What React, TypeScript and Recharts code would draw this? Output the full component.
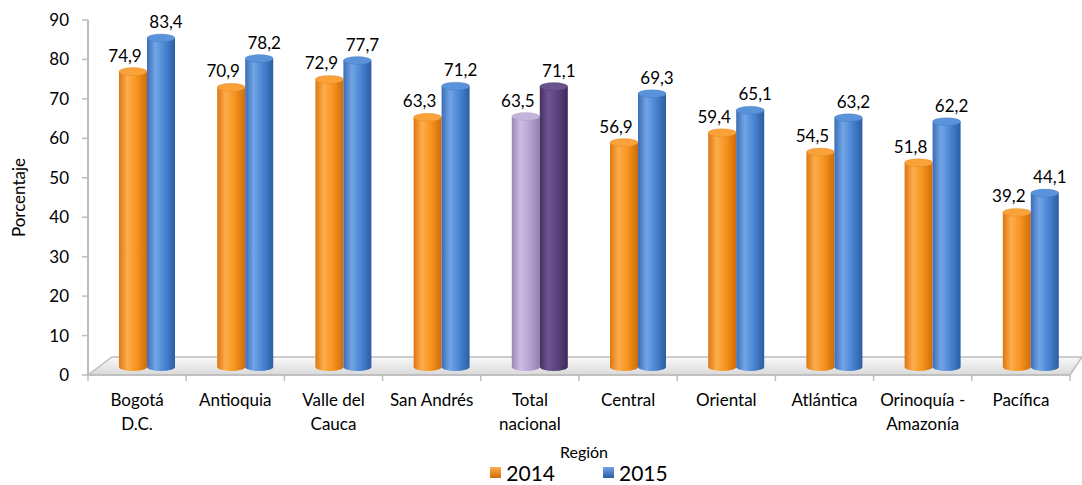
import React from 'react';
import { BarChart, Bar, XAxis, YAxis, Legend, LabelList, ReferenceLine } from 'recharts';

const categories = [
  'Bogotá\nD.C.',
  'Antioquia',
  'Valle del\nCauca',
  'San Andrés',
  'Total\nnacional',
  'Central',
  'Oriental',
  'Atlántica',
  'Orinoquía -\nAmazonía',
  'Pacífica',
];
const values2014 = [74.9, 70.9, 72.9, 63.3, 63.5, 56.9, 59.4, 54.5, 51.8, 39.2];
const values2015 = [83.4, 78.2, 77.7, 71.2, 71.1, 69.3, 65.1, 63.2, 62.2, 44.1];
const yTicks = [0, 10, 20, 30, 40, 50, 60, 70, 80, 90];
const highlightCategory = 'Total\nnacional';

const chartData = categories.map((region, i) => ({
  region,
  y2014: values2014[i],
  y2015: values2015[i],
}));

const W = 1082;
const H = 485;
const MARGIN = { top: 20, right: 12, bottom: 0, left: 8 };
const Y_AXIS_W = 80;
const X_AXIS_H = 85;
const LEGEND_H = 25;
const PLOT_W = W - MARGIN.left - MARGIN.right - Y_AXIS_W;
const BAND = PLOT_W / categories.length;
// fake 3D depth offset of the bars
const DX = 10;
const DY = -8;
const RY = 4;
const FONT = 'Lato, "Open Sans", sans-serif';
const AXIS_COLOR = '#BDBDBD';

const palettes: Record<string, { stops: string[]; top: string }> = {
  orange: { stops: ['#DD7710', '#FDAD4E', '#F7951F', '#D06C08'], top: '#F9A23A' },
  blue: { stops: ['#3A6DB5', '#72A5E6', '#4A86D3', '#2C5DA2'], top: '#5B93DA' },
  lilac: { stops: ['#9A86B6', '#CDBCE3', '#B9A5D4', '#9280AF'], top: '#C4B3DB' },
  plum: { stops: ['#46315F', '#6E5394', '#5C4480', '#3C2858'], top: '#6A528C' },
};

const Gradients = () => (
  <defs>
    {Object.entries(palettes).map(([k, p]) => (
      <linearGradient key={k} id={`cyl-${k}`} x1="0" y1="0" x2="1" y2="0">
        <stop offset="0%" stopColor={p.stops[0]} />
        <stop offset="30%" stopColor={p.stops[1]} />
        <stop offset="62%" stopColor={p.stops[2]} />
        <stop offset="100%" stopColor={p.stops[3]} />
      </linearGradient>
    ))}
    <linearGradient id="floor" x1="0" y1="0" x2="0" y2="1">
      <stop offset="0%" stopColor="#F9F9F9" />
      <stop offset="100%" stopColor="#D9D9D9" />
    </linearGradient>
  </defs>
);

const makeCylinder = (series: '2014' | '2015') => (props: any) => {
  const { x, y, width, height, payload } = props;
  if (width == null || height == null) return null;
  const hl = payload && payload.region === highlightCategory;
  const key = hl ? (series === '2014' ? 'lilac' : 'plum') : series === '2014' ? 'orange' : 'blue';
  const X = x + DX;
  const Y = y + DY;
  const rx = width / 2;
  const bottom = Y + height;
  const d = `M${X},${Y} L${X},${bottom} A${rx},${RY} 0 0 0 ${X + width},${bottom} L${X + width},${Y} Z`;
  return (
    <g>
      <path d={d} fill={`url(#cyl-${key})`} />
      <ellipse cx={X + rx} cy={Y} rx={rx} ry={RY} fill={palettes[key].top} stroke={palettes[key].stops[3]} strokeOpacity={0.35} strokeWidth={0.6} />
    </g>
  );
};

const makeLabel = (shift: number) => (props: any) => {
  const { x, y, width, value } = props;
  return (
    <text
      x={x + DX + width / 2 + shift}
      y={y + DY - RY - 6}
      textAnchor="middle"
      fontSize={17}
      fontFamily={FONT}
      fill="#000"
    >
      {Number(value).toFixed(1).replace('.', ',')}
    </text>
  );
};

const Floor = (props: any) => {
  const { x1, y1, x2 } = props;
  const d = `M${x1},${y1} L${x2},${y1} L${x2 + 12},${y1 - 18} L${x1 + 24},${y1 - 18} Z`;
  return <path d={d} fill="url(#floor)" stroke={AXIS_COLOR} strokeWidth={1.5} />;
};

const CategoryTick = (props: any) => {
  const { x, y, payload, index } = props;
  const lines = String(payload.value).split('\n');
  const last = index === categories.length - 1;
  return (
    <g>
      <line x1={x - BAND / 2} y1={y} x2={x - BAND / 2} y2={y + 6} stroke={AXIS_COLOR} strokeWidth={1.5} />
      {last && <line x1={x + BAND / 2} y1={y} x2={x + BAND / 2} y2={y + 6} stroke={AXIS_COLOR} strokeWidth={1.5} />}
      <text x={x} y={y + 31} textAnchor="middle" fontSize={17} fontFamily={FONT} fill="#000">
        {lines.map((l, i) => (
          <tspan key={i} x={x} dy={i === 0 ? 0 : 24}>
            {l}
          </tspan>
        ))}
      </text>
    </g>
  );
};

const LegendSwatch = ({ color }: { color: string }) => (
  <span
    style={{
      display: 'inline-block',
      width: 11,
      height: 11,
      marginRight: 5,
      background: `linear-gradient(180deg, ${palettes[color].stops[1]}, ${palettes[color].stops[3]})`,
    }}
  />
);

const renderLegend = () => (
  <div
    style={{
      display: 'flex',
      justifyContent: 'center',
      alignItems: 'center',
      height: LEGEND_H,
      gap: 48,
      fontFamily: FONT,
      fontSize: 21,
      color: '#000',
    }}
  >
    <span style={{ display: 'flex', alignItems: 'center' }}>
      <LegendSwatch color="orange" />
      2014
    </span>
    <span style={{ display: 'flex', alignItems: 'center' }}>
      <LegendSwatch color="blue" />
      2015
    </span>
  </div>
);

export default function App() {
  return (
    <div style={{ width: W, height: H, background: '#fff' }}>
      <style>{'body{margin:0}'}</style>
      <BarChart width={W} height={H} data={chartData} margin={MARGIN} barSize={28} barGap={0}>
        <Gradients />
        <ReferenceLine y={0} shape={Floor} zIndex={-10} />
        <XAxis
          dataKey="region"
          interval={0}
          height={X_AXIS_H}
          tickLine={false}
          tickSize={0}
          tickMargin={0}
          tick={CategoryTick}
          axisLine={{ stroke: AXIS_COLOR, strokeWidth: 1.5 }}
          label={{
            content: (p: any) => {
              const vb = p.viewBox || {};
              return (
                <text x={vb.x + vb.width / 2 + 5} y={vb.y + 83} textAnchor="middle" fontSize={16} fontFamily={FONT} fill="#000">
                  Región
                </text>
              );
            },
          }}
        />
        <YAxis
          width={Y_AXIS_W}
          domain={[0, 90]}
          ticks={yTicks}
          interval={0}
          tickSize={6}
          tickMargin={13}
          tick={{ fontSize: 17, fontFamily: FONT, fill: '#000' }}
          tickLine={{ stroke: AXIS_COLOR, strokeWidth: 1.5 }}
          axisLine={{ stroke: AXIS_COLOR, strokeWidth: 2 }}
          label={{
            content: (p: any) => {
              const vb = p.viewBox || {};
              const cx = vb.x + 10;
              const cy = vb.y + vb.height / 2;
              return (
                <text x={cx} y={cy} transform={`rotate(-90 ${cx} ${cy})`} textAnchor="middle" dominantBaseline="central" fontSize={17} fontFamily={FONT} fill="#000">
                  Porcentaje
                </text>
              );
            },
          }}
        />
        <Legend
          verticalAlign="bottom"
          height={LEGEND_H}
          wrapperStyle={{ left: MARGIN.left + Y_AXIS_W, width: PLOT_W }}
          content={renderLegend}
        />
        <Bar dataKey="y2014" name="2014" fill="#F7941D" shape={makeCylinder('2014')} isAnimationActive={false}>
          <LabelList dataKey="y2014" content={makeLabel(-8)} />
        </Bar>
        <Bar dataKey="y2015" name="2015" fill="#4A86D3" shape={makeCylinder('2015')} isAnimationActive={false}>
          <LabelList dataKey="y2015" content={makeLabel(5)} />
        </Bar>
      </BarChart>
    </div>
  );
}
